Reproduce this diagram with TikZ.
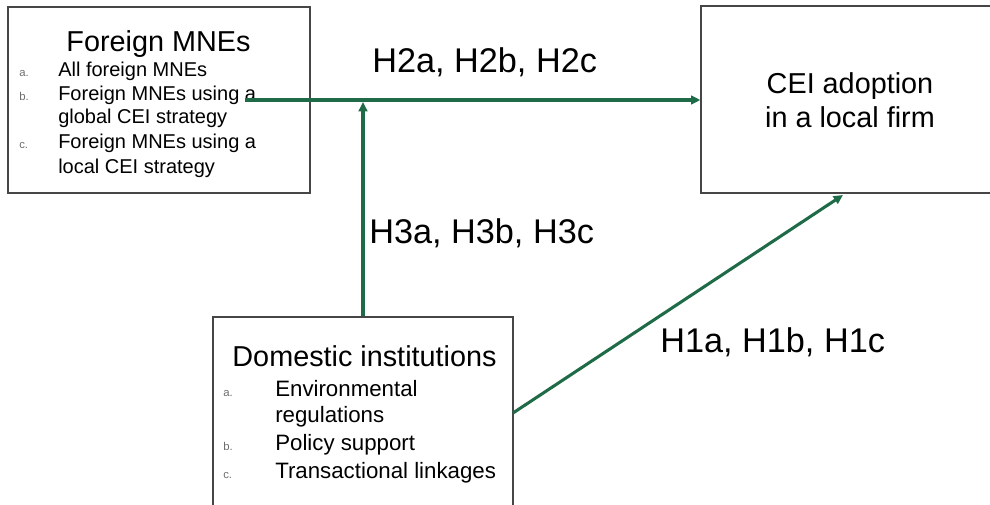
\documentclass[tikz,border=0pt]{standalone}
\usepackage{fontspec}
\setmainfont{Liberation Sans}
\usetikzlibrary{arrows.meta,fit}

\definecolor{linkgreen}{RGB}{31,107,72}
\definecolor{boxgray}{RGB}{70,70,70}
\definecolor{markgray}{RGB}{110,110,110}

\tikzset{
	box/.style={draw=boxgray, line width=0.9pt, inner sep=0pt},
	link/.style={draw=linkgreen, line width=2.3pt, -{Triangle[length=7pt,width=6.5pt]}},
	head/.style={inner sep=0pt, font=\fontsize{21.6}{26}\selectfont},
	itemf/.style={anchor=base west, inner sep=0pt, font=\fontsize{15}{18}\selectfont},
	itemd/.style={anchor=base west, inner sep=0pt, font=\fontsize{16.7}{20}\selectfont},
	itemmark/.style={anchor=base west, inner sep=0pt, text=markgray, font=\fontsize{8.5}{10}\selectfont},
	hyp/.style={anchor=base west, inner sep=0pt, font=\fontsize{25.7}{30}\selectfont}
}

\begin{document}
\begin{tikzpicture}[x=0.75pt,y=0.75pt,yscale=-1,xscale=1]
	\useasboundingbox (0,0) rectangle (990,504);
	
	% Boxes
	\node [box, fit={(8,7) (310,193)}] (mne) {};
	\node [box, fit={(701,6) (996,193)}] (cei) {};
	\node [box, fit={(213,317) (513,512)}] (dom) {};
	
	% Text Node: foreign MNEs
	\node [head, anchor=base] (mnehead) at (158.5,51) {Foreign MNEs};
	\node [itemmark] (mnea) at (19,76) {a.};
	\node [itemf] (mneatext) at (58,76) {All foreign MNEs};
	\node [itemmark] (mneb) at (19,100) {b.};
	\node [itemf] (mnebtext) at (58,100) {Foreign MNEs using a};
	\node [itemf] (mnebtext2) at (58,123) {global CEI strategy};
	\node [itemmark] (mnec) at (19,148) {c.};
	\node [itemf] (mnectext) at (58,148) {Foreign MNEs using a};
	\node [itemf] (mnectext2) at (58,173) {local CEI strategy};
	
	% Text Node: CEI adoption
	\node [head, anchor=base] (ceitext) at (850,93) {CEI adoption};
	\node [head, anchor=base] (ceitext2) at (850,127) {in a local firm};
	
	% Text Node: domestic institutions
	\node [head, anchor=base] (domhead) at (364.5,366) {Domestic institutions};
	\node [itemmark] (doma) at (223,396) {a.};
	\node [itemd] (domatext) at (275,396) {Environmental};
	\node [itemd] (domatext2) at (275,422) {regulations};
	\node [itemmark] (domb) at (223,450) {b.};
	\node [itemd] (dombtext) at (275,450) {Policy support};
	\node [itemmark] (domc) at (223,478) {c.};
	\node [itemd] (domctext) at (275,478) {Transactional linkages};
	
	% Connectors
	\coordinate (h2start) at (245,100);
	\coordinate (joint) at (363,102);
	\coordinate (h1start) at (513,413);
	\coordinate (h1end) at (843,195);
	\draw [link] (h2start) -- (h2start -| cei.west);
	\draw [link] (dom.north -| joint) -- (joint);
	\draw [link] (h1start) -- (h1end);
	
	% Text Node: hypotheses
	\node [hyp] (h2) at (372,72) {H2a, H2b, H2c};
	\node [hyp] (h3) at (369,243) {H3a, H3b, H3c};
	\node [hyp] (h1) at (660,352) {H1a, H1b, H1c};
	
\end{tikzpicture}
\end{document}
